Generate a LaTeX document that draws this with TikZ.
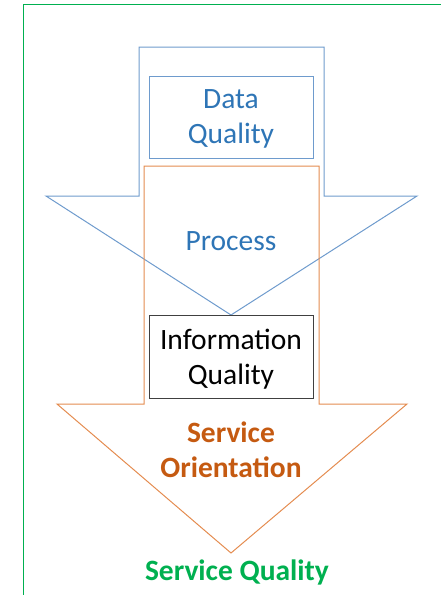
\documentclass[tikz,border=0pt]{standalone}
\usepackage{fontspec}
\setmainfont{Carlito}
\definecolor{dqblue}{RGB}{46,117,182}
\definecolor{dqline}{RGB}{110,155,205}
\definecolor{soline}{RGB}{228,140,80}
\definecolor{sotext}{RGB}{197,90,17}
\definecolor{sqgreen}{RGB}{0,176,80}
\begin{document}
\begin{tikzpicture}[x=1pt, y=-1pt,
  label/.style={align=center, font=\fontsize{29.5}{35}\selectfont, inner sep=0pt, text depth=0pt},
  box/.style={draw, line width=1pt, minimum width=164pt, minimum height=82pt}]
\useasboundingbox (0,0) rectangle (441,595);
\draw [sqgreen, line width=1pt] (441,4) -| (23,595);
% process arrow
\draw [dqline, line width=1pt] (139,47) -- (324,47) -- (324,196) -- (417,196)
  -- (231,315) -- (46,196) -- (139,196) -- cycle;
% service orientation arrow
\draw [soline, line width=1pt] (144,166) -- (319,166) -- (319,404) -- (407,404)
  -- (231,553) -- (57,404) -- (144,404) -- cycle;
\node [box, label, draw=dqline, text=dqblue] (data) at (231,117) {Data\\Quality};
\node [label, text=dqblue] (process) at (231,241) {Process};
\node [box, label, draw=black!75, fill=white, minimum height=83pt] (info) at (231,356.5) {Information\\Quality};
\node [label, text=sotext, font=\fontsize{29.5}{35}\selectfont\bfseries] (orient) at (231,449.5) {Service\\Orientation};
\node [label, text=sqgreen, font=\fontsize{29.5}{35}\selectfont\bfseries] (service) at (237,570) {Service Quality};
\end{tikzpicture}
\end{document}
